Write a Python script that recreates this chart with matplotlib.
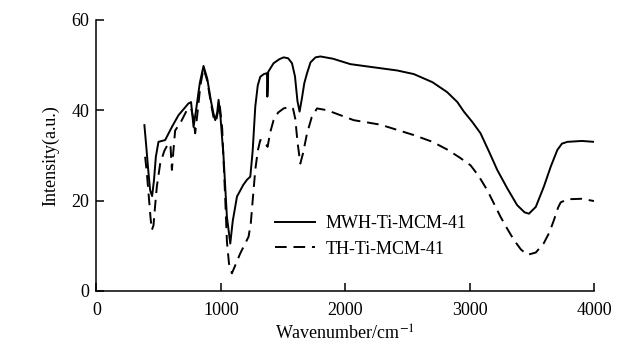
import matplotlib.pyplot as plt
import numpy as np

plt.rcParams['font.family'] = ['Liberation Serif', 'DejaVu Serif']
plt.rcParams['mathtext.fontset'] = 'stix'

# MWH-Ti-MCM-41 (solid)
wn_mwh = [385, 400, 415, 431, 447, 462, 477, 498, 552, 606, 659, 739, 760, 780, 800,
          830, 860, 890, 920, 940, 954, 970, 981, 995, 1021, 1048, 1075, 1095, 1129,
          1180, 1209, 1236, 1255, 1276, 1296, 1316, 1345, 1370, 1373, 1376, 1380, 1423,
          1470, 1504, 1540, 1571, 1595, 1615, 1632, 1650, 1670, 1692, 1720, 1760, 1799,
          1900, 2040, 2200, 2416, 2550, 2700, 2818, 2900, 2952, 3020, 3086, 3160, 3220,
          3301, 3380, 3440, 3475, 3530, 3595, 3650, 3703, 3740, 3784, 3900, 3998]
int_mwh = [36.7, 32.0, 27.0, 22.3, 21.0, 24.5, 29.7, 33.0, 33.4, 36.3, 38.9, 41.5,
           41.8, 36.3, 40.0, 46.0, 49.8, 47.0, 42.0, 39.3, 37.8, 39.5, 42.3, 39.0, 29.7,
           16.4, 10.5, 15.5, 20.9, 23.5, 24.6, 25.3, 31.0, 40.8, 45.5, 47.4, 48.0, 48.2,
           43.0, 44.5, 48.5, 50.4, 51.3, 51.7, 51.5, 50.4, 47.5, 42.0, 39.7, 42.5, 46.0,
           48.2, 50.6, 51.7, 51.9, 51.4, 50.2, 49.6, 48.8, 48.0, 46.2, 44.0, 41.8, 39.7,
           37.4, 34.9, 30.5, 26.8, 22.7, 19.0, 17.4, 17.1, 18.6, 23.1, 27.5, 31.2, 32.6,
           33.0, 33.2, 33.0]

# TH-Ti-MCM-41 (dashed)
wn_th = [391, 405, 420, 435, 445, 458, 470, 485, 512, 545, 578, 595, 606, 618, 632,
         680, 726, 760, 780, 793, 810, 835, 860, 890, 920, 940, 960, 989, 1010, 1035,
         1048, 1065, 1088, 1120, 1155, 1222, 1240, 1255, 1276, 1296, 1316, 1345, 1375,
         1395, 1423, 1460, 1504, 1557, 1580, 1598, 1615, 1638, 1660, 1692, 1730, 1772,
         1853, 2067, 2282, 2550, 2700, 2818, 2920, 3006, 3070, 3140, 3200, 3247, 3300,
         3354, 3410, 3462, 3530, 3595, 3640, 3676, 3710, 3730, 3784, 3900, 3998]
int_th = [29.7, 26.0, 21.0, 16.0, 13.5, 14.5, 18.5, 23.1, 28.2, 31.0, 32.7, 32.0,
          26.8, 31.0, 35.5, 37.5, 40.0, 40.5, 38.0, 34.9, 39.0, 45.5, 49.3, 46.5, 41.5,
          38.5, 37.5, 41.5, 36.0, 20.1, 11.0, 6.0, 3.9, 6.0, 8.3, 12.0, 15.0, 20.0,
          26.8, 31.0, 33.4, 33.2, 31.9, 35.0, 37.8, 39.5, 40.4, 40.8, 40.3, 38.0, 33.0,
          28.2, 30.5, 34.9, 38.5, 40.4, 40.0, 37.8, 36.8, 34.5, 33.0, 31.3, 29.5, 27.8,
          25.5, 22.3, 19.0, 16.4, 13.8, 11.3, 9.2, 8.0, 8.5, 10.6, 13.0, 15.7, 18.5,
          19.6, 20.3, 20.4, 19.9]

fig = plt.figure(figsize=(6.39, 3.61), dpi=100)
ax = fig.add_axes([0.151, 0.194, 0.779, 0.751])

ax.plot(wn_mwh, int_mwh, color='black', lw=1.4, label='MWH-Ti-MCM-41')
ax.plot(wn_th, int_th, color='black', lw=1.4, ls=(0, (6, 3.5)), label='TH-Ti-MCM-41')

ax.set_xlim(0, 4000)
ax.set_ylim(0, 60)
ax.set_xticks([0, 1000, 2000, 3000, 4000])
ax.set_yticks([0, 20, 40, 60])
ax.spines['top'].set_visible(False)
ax.spines['right'].set_visible(False)
for s in ['left', 'bottom']:
    ax.spines[s].set_linewidth(1.1)
ax.tick_params(direction='in', length=6, width=1.1, labelsize=13)
ax.tick_params(axis='x', pad=8)
ax.tick_params(axis='y', pad=5)

ax.set_xlabel('Wavenumber/cm$^{-1}$', fontsize=13, labelpad=4)
ax.set_ylabel('Intensity(a.u.)', fontsize=13, labelpad=9)

ax.legend(loc='upper left', bbox_to_anchor=(0.345, 0.305), frameon=False, fontsize=13,
          handlelength=2.2, handletextpad=0.6, labelspacing=0.45, borderaxespad=0)

fig.savefig('out.png', dpi=100)
